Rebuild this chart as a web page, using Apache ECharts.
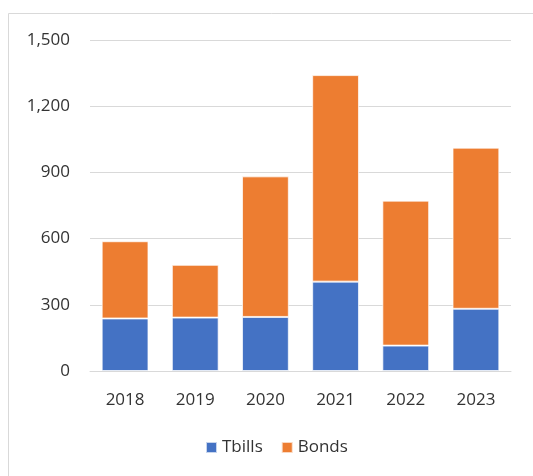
<!DOCTYPE html>
<html>
<head>
<meta charset="utf-8">
<script src="https://cdn.jsdelivr.net/npm/echarts@6/dist/echarts.min.js"></script>
<style>
  html, body { margin: 0; padding: 0; background: #fff; }
  #chart { width: 533px; height: 476px; }
</style>
</head>
<body>
<div id="chart"></div>
<script>
// Annual issuance split by instrument
const years = ['2018', '2019', '2020', '2021', '2022', '2023'];
const tbills = [238, 242, 245, 405, 115, 282];
const bonds = [350, 239, 637, 936, 657, 730];
const yTicks = { min: 0, max: 1500, interval: 300 };

const FONT = '"Open Sans", "Noto Sans", sans-serif';
const TEXT = '#333333';

const chart = echarts.init(document.getElementById('chart'), null, { renderer: 'canvas' });

const barStyle = (color) => ({
  color: color,
  borderColor: 'rgba(255,255,255,0.7)',
  borderWidth: 1
});

chart.setOption({
  animation: false,
  backgroundColor: '#fff',
  graphic: [{
    type: 'rect',
    shape: { x: 8.5, y: 13.5, width: 700, height: 700 },
    style: { fill: 'none', stroke: '#d9d9d9', lineWidth: 1 },
    silent: true
  }],
  grid: { left: 90, right: 22, top: 40, bottom: 105, containLabel: false },
  legend: {
    top: 434,
    left: 200,
    itemWidth: 11,
    itemHeight: 11,
    itemGap: 18,
    icon: 'rect',
    textStyle: { fontFamily: FONT, fontSize: 17, color: TEXT, padding: [0, 0, 0, 0] },
    data: ['Tbills', 'Bonds']
  },
  xAxis: {
    type: 'category',
    data: years,
    axisLine: { lineStyle: { color: '#d9d9d9', width: 1 } },
    axisTick: { show: false },
    axisLabel: { fontFamily: FONT, fontSize: 17, color: TEXT, margin: 21 }
  },
  yAxis: {
    type: 'value',
    min: yTicks.min,
    max: yTicks.max,
    interval: yTicks.interval,
    axisLine: { show: false },
    axisTick: { show: false },
    splitLine: { lineStyle: { color: '#d9d9d9', width: 1 } },
    axisLabel: {
      fontFamily: FONT, fontSize: 17, color: TEXT, margin: 20,
      formatter: (v) => v.toLocaleString('en-US')
    }
  },
  series: [
    {
      name: 'Tbills', type: 'bar', stack: 'total', data: tbills,
      barCategoryGap: '33.3%',
      itemStyle: barStyle('#4472C4')
    },
    {
      name: 'Bonds', type: 'bar', stack: 'total', data: bonds,
      barCategoryGap: '33.3%',
      itemStyle: barStyle('#ED7D31')
    }
  ]
});
</script>
</body>
</html>
